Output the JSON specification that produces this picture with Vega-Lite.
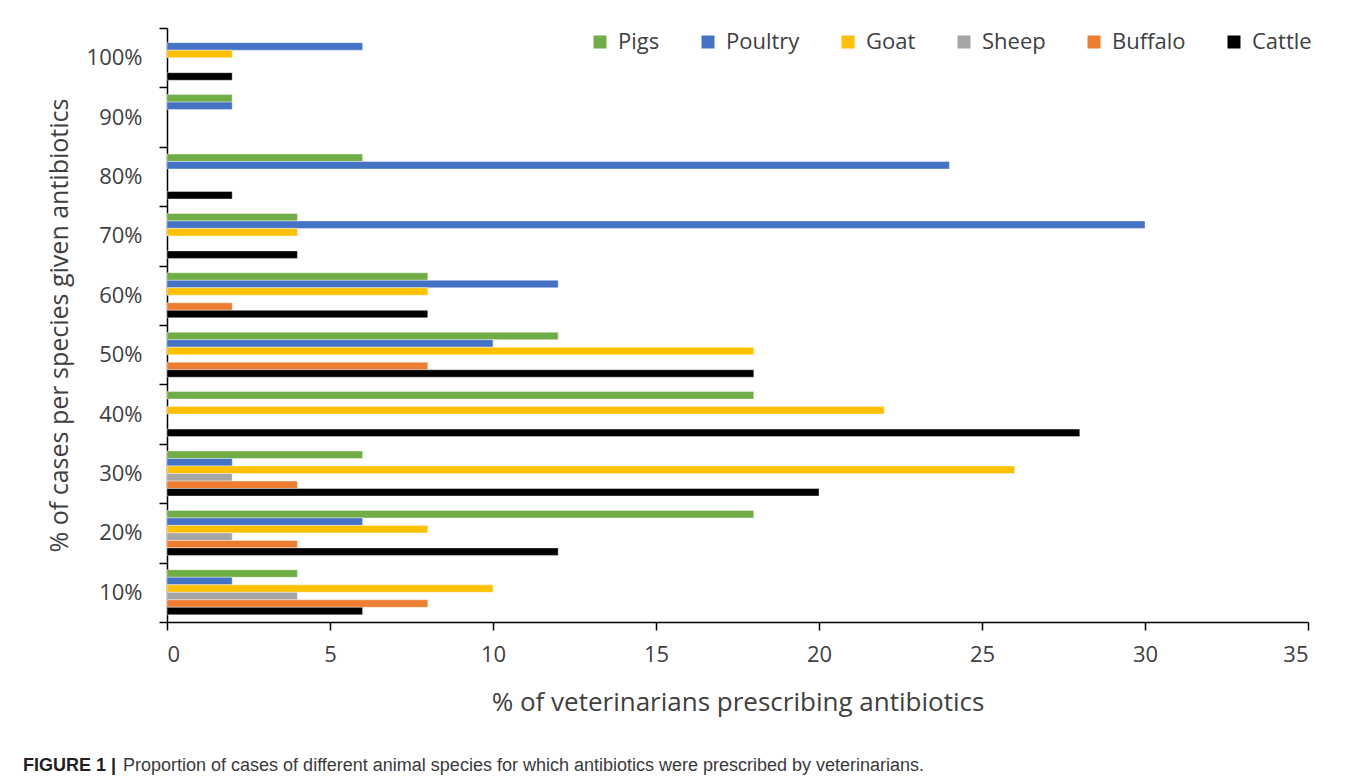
{
  "$schema": "https://vega.github.io/schema/vega-lite/v6.json",
  "width": 1141,
  "height": 594,
  "autosize": {"type": "none"},
  "padding": {"left": 167, "top": 28, "right": 50, "bottom": 161},
  "background": "white",
  "title": {
    "text": "FIGURE 1 |",
    "subtitle": "\u200b\u00a0\u00a0\u00a0\u00a0\u00a0\u00a0\u00a0\u00a0\u00a0\u00a0\u00a0\u00a0\u00a0\u00a0\u00a0\u00a0\u00a0\u00a0\u00a0\u00a0Proportion of cases of different animal species for which antibiotics were prescribed by veterinarians.",
    "orient": "bottom",
    "anchor": "start",
    "frame": "group",
    "dx": -144,
    "offset": 42,
    "font": "Liberation Sans",
    "fontSize": 18,
    "fontWeight": "bold",
    "color": "#231f20",
    "subtitleFont": "Liberation Sans",
    "subtitleFontSize": 18,
    "subtitleFontWeight": "normal",
    "subtitleColor": "#3a3a3a",
    "subtitlePadding": -18
  },
  "data": {
    "values": [
      {"cat": "100%", "species": "Poultry", "value": 6},
      {"cat": "100%", "species": "Goat", "value": 2},
      {"cat": "100%", "species": "Cattle", "value": 2},
      {"cat": "90%", "species": "Pigs", "value": 2},
      {"cat": "90%", "species": "Poultry", "value": 2},
      {"cat": "80%", "species": "Pigs", "value": 6},
      {"cat": "80%", "species": "Poultry", "value": 24},
      {"cat": "80%", "species": "Cattle", "value": 2},
      {"cat": "70%", "species": "Pigs", "value": 4},
      {"cat": "70%", "species": "Poultry", "value": 30},
      {"cat": "70%", "species": "Goat", "value": 4},
      {"cat": "70%", "species": "Cattle", "value": 4},
      {"cat": "60%", "species": "Pigs", "value": 8},
      {"cat": "60%", "species": "Poultry", "value": 12},
      {"cat": "60%", "species": "Goat", "value": 8},
      {"cat": "60%", "species": "Buffalo", "value": 2},
      {"cat": "60%", "species": "Cattle", "value": 8},
      {"cat": "50%", "species": "Pigs", "value": 12},
      {"cat": "50%", "species": "Poultry", "value": 10},
      {"cat": "50%", "species": "Goat", "value": 18},
      {"cat": "50%", "species": "Buffalo", "value": 8},
      {"cat": "50%", "species": "Cattle", "value": 18},
      {"cat": "40%", "species": "Pigs", "value": 18},
      {"cat": "40%", "species": "Goat", "value": 22},
      {"cat": "40%", "species": "Cattle", "value": 28},
      {"cat": "30%", "species": "Pigs", "value": 6},
      {"cat": "30%", "species": "Poultry", "value": 2},
      {"cat": "30%", "species": "Goat", "value": 26},
      {"cat": "30%", "species": "Sheep", "value": 2},
      {"cat": "30%", "species": "Buffalo", "value": 4},
      {"cat": "30%", "species": "Cattle", "value": 20},
      {"cat": "20%", "species": "Pigs", "value": 18},
      {"cat": "20%", "species": "Poultry", "value": 6},
      {"cat": "20%", "species": "Goat", "value": 8},
      {"cat": "20%", "species": "Sheep", "value": 2},
      {"cat": "20%", "species": "Buffalo", "value": 4},
      {"cat": "20%", "species": "Cattle", "value": 12},
      {"cat": "10%", "species": "Pigs", "value": 4},
      {"cat": "10%", "species": "Poultry", "value": 2},
      {"cat": "10%", "species": "Goat", "value": 10},
      {"cat": "10%", "species": "Sheep", "value": 4},
      {"cat": "10%", "species": "Buffalo", "value": 8},
      {"cat": "10%", "species": "Cattle", "value": 6}
    ]
  },
  "mark": {"type": "bar", "stroke": "white", "strokeWidth": 0.4},
  "encoding": {
    "y": {
      "field": "cat",
      "type": "nominal",
      "sort": ["100%", "90%", "80%", "70%", "60%", "50%", "40%", "30%", "20%", "10%"],
      "scale": {"paddingInner": 0, "paddingOuter": 0},
      "axis": {
        "title": "% of cases per species given antibiotics",
        "titleFont": "Open Sans",
        "titleFontSize": 25,
        "titleFontWeight": "normal",
        "titleColor": "#404040",
        "titlePadding": 14,
        "labelFont": "Open Sans",
        "labelFontSize": 22,
        "labelColor": "#404040",
        "labelPadding": 17,
        "tickBand": "extent",
        "tickSize": 8,
        "tickColor": "black",
        "tickWidth": 1.5,
        "domainColor": "black",
        "domainWidth": 1.5,
        "grid": false
      }
    },
    "yOffset": {
      "field": "species",
      "type": "nominal",
      "scale": {"domain": ["Pigs", "Poultry", "Goat", "Sheep", "Buffalo", "Cattle"], "paddingInner": 0, "paddingOuter": 0.96}
    },
    "x": {
      "field": "value",
      "type": "quantitative",
      "scale": {"domain": [0, 35], "nice": false},
      "axis": {
        "title": "% of veterinarians prescribing antibiotics",
        "titleFont": "Open Sans",
        "titleFontSize": 26,
        "titleFontWeight": "normal",
        "titleColor": "#404040",
        "titlePadding": 24,
        "values": [0, 5, 10, 15, 20, 25, 30, 35],
        "labelFont": "Open Sans",
        "labelFontSize": 22,
        "labelColor": "#404040",
        "labelPadding": 14,
        "tickSize": 8,
        "tickColor": "black",
        "tickWidth": 1.5,
        "domainColor": "black",
        "domainWidth": 1.5,
        "grid": false
      }
    },
    "color": {
      "field": "species",
      "type": "nominal",
      "scale": {
        "domain": ["Pigs", "Poultry", "Goat", "Sheep", "Buffalo", "Cattle"],
        "range": ["#70ad47", "#4472c4", "#ffc000", "#a5a5a5", "#ed7d31", "#000000"]
      },
      "legend": {
        "title": null,
        "orient": "none",
        "legendX": 422,
        "legendY": 3,
        "direction": "horizontal",
        "padding": 0,
        "symbolType": "square",
        "symbolSize": 169,
        "symbolStrokeWidth": 0,
        "labelFont": "Open Sans",
        "labelFontSize": 22,
        "labelColor": "#404040",
        "labelOffset": 7,
        "columnPadding": 37
      }
    }
  },
  "config": {"view": {"stroke": null}}
}
